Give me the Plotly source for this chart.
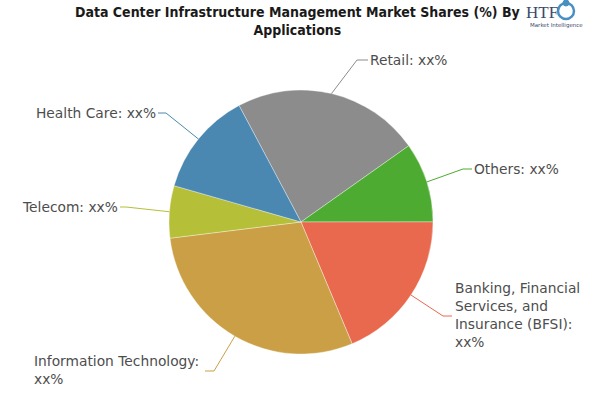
import math
import plotly.graph_objects as go

# ---- data ----
categories = ["Retail", "Others", "Banking, Financial Services, and Insurance (BFSI)",
              "Information Technology", "Telecom", "Health Care"]
shares = [23.0, 9.8, 18.7, 29.4, 6.4, 12.8]
label_texts = ["Retail: xx%", "Others: xx%",
               "Banking, Financial<br>Services, and<br>Insurance (BFSI):<br>xx%",
               "Information Technology:<br>xx%", "Telecom: xx%", "Health Care: xx%"]
colors = ["#8c8c8c", "#4dab31", "#e8694d", "#cb9f45", "#b5bf37", "#4a88b2"]

W, H = 600, 400
CX, CY, R = 301, 222, 132
ROT = -28  # start angle (deg, clockwise from 12 o'clock)

# label layout (pixels): text anchor x, y, xanchor, elbow x, elbow y
label_layout = [
    (368, 60, "left", 357, 60),
    (472, 169, "left", 463, 169),
    (453, 315, "left", 443, 316),
    (32, 370, "left", 214, 371),
    (120, 207, "right", 126, 207),
    (158, 113, "right", 166, 113),
]
line_end_x = [368, 472, 452, 205, 120, 158]

fig = go.Figure(go.Pie(
    labels=categories, values=shares, sort=False, direction="clockwise",
    rotation=ROT, marker=dict(colors=colors, line=dict(color="rgba(255,255,255,0.6)", width=0.6)),
    textinfo="none", hoverinfo="label+percent", showlegend=False,
    domain=dict(x=[(CX - R) / W, (CX + R) / W], y=[1 - (CY + R) / H, 1 - (CY - R) / H]),
))

def px(x):
    return x / W

def py(y):
    return 1 - y / H

total = sum(shares)
cum = 0.0
shapes, annotations = [], []
for i, v in enumerate(shares):
    mid = ROT + (cum + v / 2) / total * 360
    cum += v
    a = math.radians(mid)
    ex, ey = CX + R * math.sin(a), CY - R * math.cos(a)
    tx, ty, xa, bx, by = label_layout[i]
    lx = line_end_x[i]
    path = f"M {px(ex)},{py(ey)} L {px(bx)},{py(by)} L {px(lx)},{py(by)}"
    shapes.append(dict(type="path", xref="paper", yref="paper", path=path,
                       line=dict(color=colors[i], width=1)))
    annotations.append(dict(x=px(tx), y=py(ty), xref="paper", yref="paper",
                            xanchor=xa, yanchor="middle", align="left",
                            text=label_texts[i], showarrow=False,
                            font=dict(family="DejaVu Sans", size=13.8, color="#4d4d4d")))

# title
annotations.append(dict(x=px(297), y=py(2), xref="paper", yref="paper", xanchor="center", yanchor="top",
                        text="<b>Data Center Infrastructure Management Market Shares (%) By<br>Applications</b>",
                        showarrow=False, align="center",
                        font=dict(family="DejaVu Sans Condensed, Liberation Sans Narrow, sans-serif",
                                  size=14, color="#1a1a1a")))
# logo
annotations.append(dict(x=px(542), y=py(13), xref="paper", yref="paper", xanchor="center", yanchor="middle",
                        text="HTF", showarrow=False,
                        font=dict(family="Liberation Serif", size=17, color="#3a4a6b")))
annotations.append(dict(x=px(556), y=py(25), xref="paper", yref="paper", xanchor="center", yanchor="middle",
                        text="Market Intelligence", showarrow=False,
                        font=dict(family="DejaVu Sans", size=5.5, color="#3a4a6b")))
shapes.append(dict(type="circle", xref="paper", yref="paper",
                   x0=px(558), x1=px(574), y0=py(19), y1=py(3),
                   line=dict(color="#4a8fc2", width=2.5), fillcolor="rgba(0,0,0,0)"))
shapes.append(dict(type="circle", xref="paper", yref="paper",
                   x0=px(563), x1=px(569), y0=py(6), y1=py(0),
                   line=dict(color="#4a8fc2", width=1), fillcolor="#4a8fc2"))

fig.update_layout(width=W, height=H, margin=dict(l=0, r=0, t=0, b=0),
                  paper_bgcolor="white", plot_bgcolor="white",
                  shapes=shapes, annotations=annotations)
fig.write_html("out.html", config={"displayModeBar": False},
               post_script="document.body.style.margin='0';")
